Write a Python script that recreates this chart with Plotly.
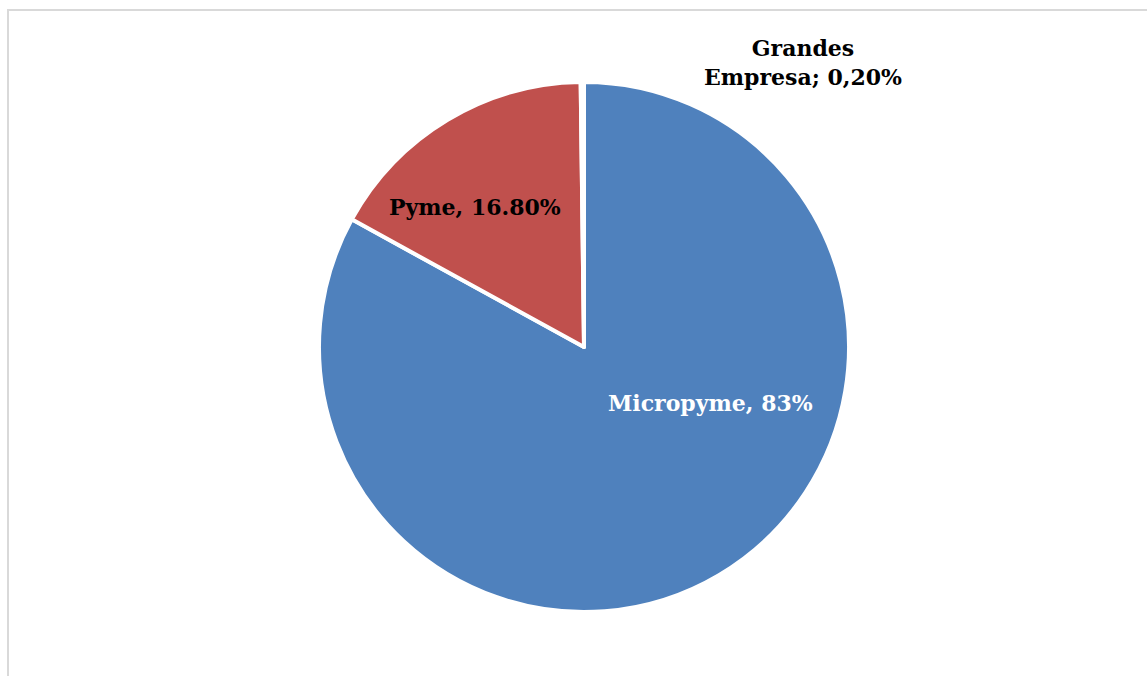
import plotly.graph_objects as go

# Company size distribution
categories = ["Micropyme", "Pyme", "Grandes Empresa"]
shares = [83.0, 16.8, 0.2]
share_labels = ["83%", "16.80%", "0,20%"]
separators = [", ", ", ", "; "]
colors = ["#4F81BD", "#C0504D", "#9BBB59"]

W, H = 1147, 676
cx, cy, r = 584, 347, 265

fig = go.Figure(go.Pie(
    labels=categories,
    values=shares,
    sort=False,
    direction="clockwise",
    rotation=0,
    textinfo="none",
    hoverinfo="label+percent",
    marker=dict(colors=colors, line=dict(color="white", width=4)),
    domain=dict(x=[(cx - r) / W, (cx + r) / W],
                y=[(H - cy - r) / H, (H - cy + r) / H]),
    showlegend=False,
))

font_family = "DejaVu Serif"
label_pos = [(710, 403, "white"), (475, 207, "black"), (803, 63, "black")]
for cat, lab, sep, (x, y, col) in zip(categories, share_labels, separators, label_pos):
    if cat == "Grandes Empresa":
        first, second = cat.split(" ", 1)
        txt = f"<b>{first}<br>{second}{sep}{lab}</b>"
    else:
        txt = f"<b>{cat}{sep}{lab}</b>"
    fig.add_annotation(x=x / W, y=1 - y / H, xref="paper", yref="paper",
                       text=txt, showarrow=False, xanchor="center", yanchor="middle",
                       font=dict(family=font_family, size=22, color=col))

# chart area border
fig.add_shape(type="rect", xref="paper", yref="paper",
              x0=8 / W, x1=1.05, y0=-0.05, y1=1 - 10 / H,
              line=dict(color="#D9D9D9", width=2))

fig.update_layout(
    width=W, height=H,
    margin=dict(l=0, r=0, t=0, b=0),
    paper_bgcolor="white",
    plot_bgcolor="white",
)

fig.write_html("out.html")
